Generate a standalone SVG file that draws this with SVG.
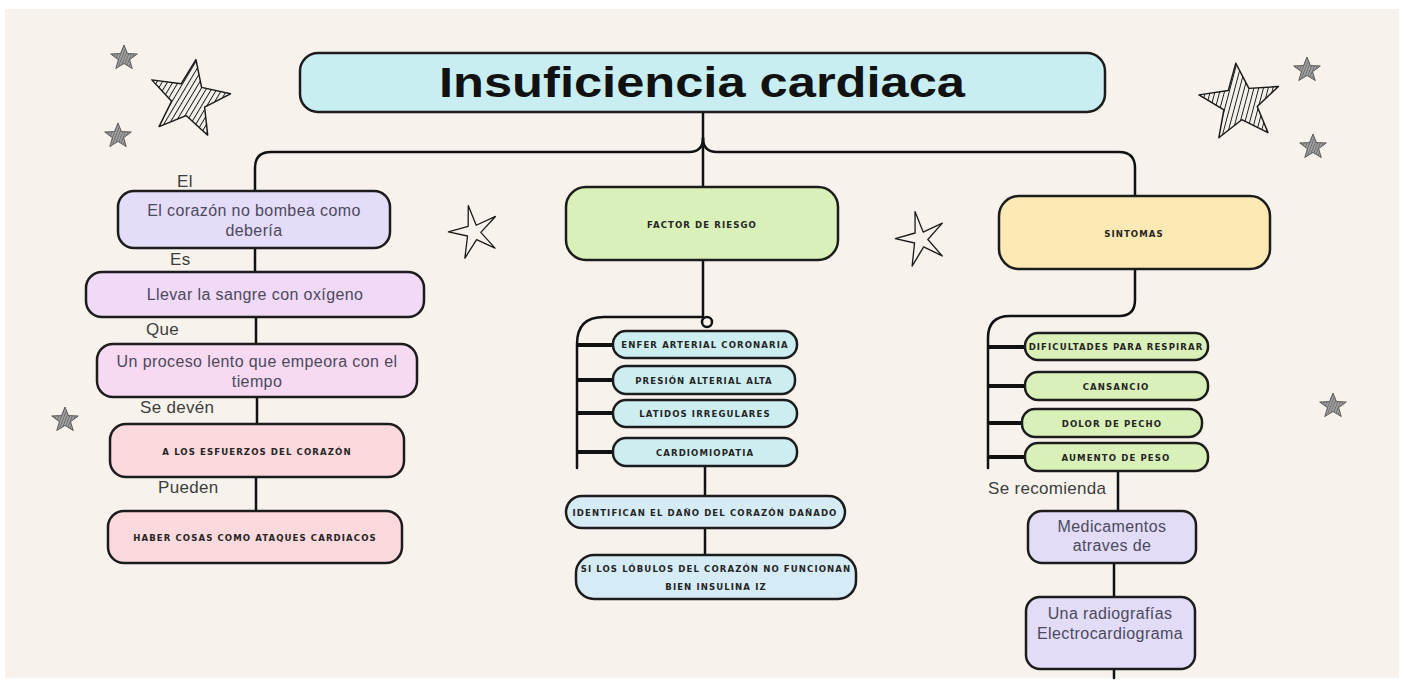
<svg xmlns="http://www.w3.org/2000/svg" width="1404" height="681" viewBox="0 0 1404 681">
<style>
.box{stroke:#1c1c1c;stroke-width:2.5}
.con{fill:none;stroke:#111;stroke-width:2.5;stroke-linecap:round}
.tick{stroke:#111;stroke-width:4}
.body{font-family:"Liberation Sans",Arial,sans-serif;font-size:16px;fill:#4b4a5c;text-anchor:middle;letter-spacing:0.4px}
.lab{font-family:"Liberation Sans",Arial,sans-serif;font-size:17px;fill:#3d3d3d;letter-spacing:0.3px}
.caps{font-family:"DejaVu Sans Condensed","Liberation Sans",sans-serif;font-size:9.5px;font-weight:bold;fill:#252525;text-anchor:middle;letter-spacing:1.1px}
.big{stroke:#1a1a1a;stroke-width:0.035;stroke-linejoin:round;fill:url(#hatch)}
.small{stroke:#555;stroke-width:0.07;stroke-linejoin:round;fill:url(#hatchg)}
.out{fill:#f7f3ec;stroke:#1a1a1a;stroke-width:0.05;stroke-linejoin:round}
</style>
<defs>
<pattern id="hatch" width="0.11" height="0.11" patternUnits="userSpaceOnUse" patternTransform="rotate(20)">
<rect width="0.11" height="0.11" fill="#f4f0ea"/>
<line x1="0" y1="0" x2="0" y2="0.11" stroke="#1a1a1a" stroke-width="0.045"/>
</pattern>
<pattern id="hatchg" width="0.18" height="0.18" patternUnits="userSpaceOnUse" patternTransform="rotate(20)">
<rect width="0.18" height="0.18" fill="#a0a0a0"/>
<line x1="0" y1="0" x2="0" y2="0.18" stroke="#444" stroke-width="0.07"/>
</pattern>
<path id="star" d="M0,-1 L0.247,-0.34 L0.951,-0.309 L0.399,0.13 L0.588,0.809 L0,0.42 L-0.588,0.809 L-0.399,0.13 L-0.951,-0.309 L-0.247,-0.34 Z"/>
<path id="thinstar" d="M0.05,-1 L0.15,-0.22 L0.951,-0.35 L0.25,0.08 L0.62,0.78 L0.02,0.3 L-0.6,0.85 L-0.28,0.08 L-0.95,-0.25 L-0.16,-0.26 Z"/>
</defs>
<rect x="0" y="0" width="1404" height="681" fill="#ffffff"/>
<rect x="5" y="9" width="1394" height="669" fill="#f7f3ec"/>

<g id="stars">
<use href="#star" class="big" transform="translate(189,99) rotate(10) scale(42,40)"/>
<use href="#star" class="big" transform="translate(1240,103) rotate(-6) scale(42,40)"/>
<use href="#star" class="small" transform="translate(124,58) scale(14,13)"/>
<use href="#star" class="small" transform="translate(118,136) scale(14,13)"/>
<use href="#star" class="small" transform="translate(65,420) scale(14,13)"/>
<use href="#star" class="small" transform="translate(1307,70) scale(14,13)"/>
<use href="#star" class="small" transform="translate(1313,147) scale(14,13)"/>
<use href="#star" class="small" transform="translate(1333,406) scale(14,13)"/>
<use href="#thinstar" class="out" transform="translate(474,232) rotate(-15) scale(26,27)"/>
<use href="#thinstar" class="out" transform="translate(921,239) rotate(-15) scale(26,28)"/>
</g>

<g id="connectors">
<path class="con" d="M703,112 V187"/>
<path class="con" d="M703,138 Q703,152 689,152 H271 Q255,152 255,168 V193"/>
<path class="con" d="M703,138 Q703,152 717,152 H1119 Q1135,152 1135,168 V197"/>
<path class="con" d="M255,248 V272 M256,317 V344 M257,397 V424 M256,477 V511"/>
<path class="con" d="M703,260 V316"/>
<circle cx="707" cy="322" r="5" fill="none" stroke="#111" stroke-width="2.5"/>
<path class="con" d="M702,317 H604 Q577,317 577,344 V468"/>
<path class="tick" d="M577,345 H614 M577,380 H614 M577,413 H614 M577,452 H614"/>
<path class="con" d="M705,466 V496 M705,528 V555"/>
<path class="con" d="M1135,269 V300 Q1135,316 1119,316 H1010 Q988,316 988,338 V468"/>
<path class="tick" d="M988,347 H1026 M988,386 H1026 M988,423 H1024 M988,457 H1026"/>
<path class="con" d="M1118,471 V511 M1114,563 V597 M1114,669 V678"/>
</g>

<g id="title">
<rect class="box" x="300" y="53" width="805" height="59" rx="18" fill="#c9eef2"/>
<text x="702" y="97" font-family="'Liberation Sans Narrow','Liberation Sans',sans-serif" font-weight="bold" font-size="42" fill="#111" text-anchor="middle" textLength="526" lengthAdjust="spacingAndGlyphs">Insuficiencia cardiaca</text>
</g>

<g id="left">
<text class="lab" x="177" y="187">El</text>
<g id="n1"><rect class="box" x="118" y="191" width="272" height="57" rx="16" fill="#e4dcf8"/>
<text class="body" x="254" y="216">El corazón no bombea como</text>
<text class="body" x="254" y="236">debería</text></g>
<text class="lab" x="170" y="265">Es</text>
<g id="n2"><rect class="box" x="86" y="272" width="338" height="45" rx="16" fill="#f1d9f8"/>
<text class="body" x="255" y="300">Llevar la sangre con oxígeno</text></g>
<text class="lab" x="146" y="335">Que</text>
<g id="n3"><rect class="box" x="97" y="344" width="320" height="53" rx="16" fill="#f8d9f2"/>
<text class="body" x="257" y="367">Un proceso lento que empeora con el</text>
<text class="body" x="257" y="387">tiempo</text></g>
<text class="lab" x="140" y="413">Se devén</text>
<g id="n4"><rect class="box" x="110" y="424" width="294" height="53" rx="16" fill="#fbd9dc"/>
<text class="caps" x="257" y="455">A LOS ESFUERZOS DEL CORAZÓN</text></g>
<text class="lab" x="158" y="493">Pueden</text>
<g id="n5"><rect class="box" x="108" y="511" width="294" height="52" rx="16" fill="#fbd9dc"/>
<text class="caps" x="255" y="541">HABER COSAS COMO ATAQUES CARDIACOS</text></g>
</g>

<g id="middle">
<g id="factor"><rect class="box" x="566" y="187" width="272" height="73" rx="20" fill="#d9f0b8"/>
<text class="caps" x="702" y="228">FACTOR DE RIESGO</text></g>
<g id="f1"><rect class="box" x="613" y="331" width="184" height="27" rx="13" fill="#cdeef0"/>
<text class="caps" x="705" y="348">ENFER ARTERIAL CORONARIA</text></g>
<g id="f2"><rect class="box" x="613" y="366" width="182" height="28" rx="13" fill="#cdeef0"/>
<text class="caps" x="704" y="384">PRESIÓN ALTERIAL ALTA</text></g>
<g id="f3"><rect class="box" x="613" y="400" width="184" height="27" rx="13" fill="#cdeef0"/>
<text class="caps" x="705" y="417">LATIDOS IRREGULARES</text></g>
<g id="f4"><rect class="box" x="613" y="438" width="184" height="28" rx="13" fill="#cdeef0"/>
<text class="caps" x="705" y="456">CARDIOMIOPATIA</text></g>
<g id="f5"><rect class="box" x="566" y="496" width="279" height="32" rx="16" fill="#d5ecf7"/>
<text class="caps" x="705" y="516">IDENTIFICAN EL DAÑO DEL CORAZÓN DAÑADO</text></g>
<g id="f6"><rect class="box" x="576" y="555" width="280" height="44" rx="18" fill="#d5ecf7"/>
<text class="caps" x="716" y="572">SI LOS LÓBULOS DEL CORAZÓN NO FUNCIONAN</text>
<text class="caps" x="716" y="590">BIEN  INSULINA IZ</text></g>
</g>

<g id="right">
<g id="sint"><rect class="box" x="999" y="196" width="271" height="73" rx="20" fill="#fde9b3"/>
<text class="caps" x="1134" y="237">SINTOMAS</text></g>
<g id="s1"><rect class="box" x="1025" y="333" width="183" height="27" rx="13" fill="#d9f0b8"/>
<text class="caps" x="1116" y="350">DIFICULTADES PARA RESPIRAR</text></g>
<g id="s2"><rect class="box" x="1025" y="372" width="183" height="28" rx="13" fill="#d9f0b8"/>
<text class="caps" x="1116" y="390">CANSANCIO</text></g>
<g id="s3"><rect class="box" x="1022" y="409" width="180" height="28" rx="13" fill="#d9f0b8"/>
<text class="caps" x="1112" y="427">DOLOR DE PECHO</text></g>
<g id="s4"><rect class="box" x="1025" y="443" width="183" height="28" rx="13" fill="#d9f0b8"/>
<text class="caps" x="1116" y="461">AUMENTO DE PESO</text></g>
<text class="lab" x="988" y="494">Se recomienda</text>
<g id="s5"><rect class="box" x="1028" y="511" width="168" height="52" rx="14" fill="#e2dcf8"/>
<text class="body" x="1112" y="532">Medicamentos</text>
<text class="body" x="1112" y="551">atraves de</text></g>
<g id="s6"><rect class="box" x="1026" y="597" width="169" height="72" rx="14" fill="#e2dcf8"/>
<text class="body" x="1110" y="619">Una radiografías</text>
<text class="body" x="1110" y="639">Electrocardiograma</text></g>
</g>
</svg>
